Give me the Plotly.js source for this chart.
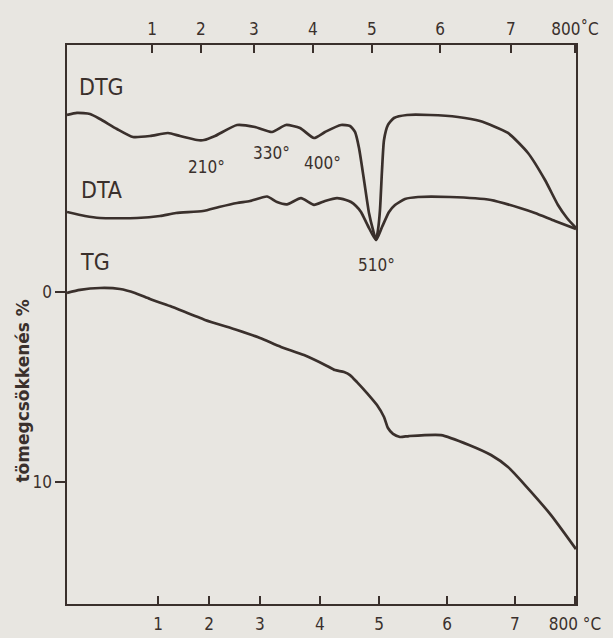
<!DOCTYPE html>
<html>
<head>
<meta charset="utf-8">
<script src="https://cdn.plot.ly/plotly-3.0.1.min.js"></script>
<style>html,body{margin:0;padding:0;background:#e8e6e1;}</style>
</head>
<body>
<div id="chart" style="width:613px;height:638px;"></div>
<script>
// Time axis of the derivatograph record (0-100 units); temperatures are marked at non-linear positions.
const tempLabels = ['1', '2', '3', '4', '5', '6', '7', '800 °C'];
const tempLabelsTop = ['1', '2', '3', '4', '5', '6', '7', '800˚C'];
const tempTimeBottom = [17.9, 27.9, 37.9, 49.7, 61.3, 74.7, 88.0, 99.8];
const tempTimeTop = [16.7, 26.3, 36.7, 48.3, 59.9, 73.3, 87.2, 99.8];

// DTG curve (arbitrary deflection units)
const dtgTime = [0, 1.96, 4.52, 6.48, 9.82, 12.97, 16.31, 19.84, 22.2, 25.54, 26.92, 29.08, 33.40, 36.94, 40.28, 43.03, 45.78, 48.53, 50.69, 53.83, 55.60, 56.58, 57.37, 58.35, 59.33, 60.12, 60.71, 61.10, 61.49, 61.89, 62.28, 63.06, 64.24, 66.80, 71.32, 76.82, 81.14, 86.64, 90.57, 93.91, 96.46, 98.23, 100];
const dtgValue = [87.48, 87.84, 87.66, 86.76, 84.97, 83.54, 83.72, 84.26, 83.72, 83.0, 83.0, 83.72, 85.69, 85.33, 84.44, 85.69, 85.15, 83.36, 84.44, 85.69, 85.51, 84.44, 81.57, 75.85, 69.95, 66.91, 65.12, 66.91, 70.48, 77.64, 83.0, 85.69, 86.94, 87.48, 87.48, 87.12, 86.40, 84.26, 80.68, 75.85, 71.38, 69.05, 67.26];

// DTA curve (arbitrary deflection units)
const dtaTime = [0, 3.54, 6.48, 13.75, 18.27, 21.41, 26.72, 29.86, 33.40, 35.95, 39.29, 41.26, 43.22, 45.97, 48.53, 50.69, 53.05, 54.81, 55.80, 56.78, 57.76, 59.14, 60.71, 61.89, 63.26, 64.44, 66.40, 68.96, 75.25, 83.30, 89.00, 91.94, 95.87, 100];
const dtaValue = [70.13, 69.41, 69.05, 69.05, 69.41, 69.95, 70.30, 71.02, 71.74, 72.09, 72.9, 71.9, 71.5, 72.6, 71.4, 72.09, 72.6, 72.27, 71.91, 71.20, 70.13, 67.62, 65.12, 67.44, 70.13, 71.38, 72.45, 72.81, 72.81, 72.27, 70.84, 69.95, 68.52, 67.08];

// TG curve: mass loss in %
const tgTime = [0, 2.55, 6.48, 10.41, 13.36, 16.31, 20.24, 27.11, 33.40, 37.92, 42.04, 46.56, 51.08, 52.65, 54.42, 55.60, 56.97, 58.94, 60.90, 62.28, 63.06, 64.05, 65.42, 67.19, 73.48, 78.98, 83.30, 86.64, 89.98, 95.09, 100];
const tgLoss = [0.05, -0.11, -0.21, -0.16, 0.05, 0.37, 0.74, 1.47, 2.0, 2.42, 2.89, 3.32, 3.89, 4.11, 4.21, 4.37, 4.74, 5.32, 5.95, 6.58, 7.16, 7.47, 7.63, 7.58, 7.53, 8.05, 8.58, 9.21, 10.16, 11.74, 13.53];

const tgTicks = [0, 10];
const peakLabels = ['210°', '330°', '400°', '510°'];
const peakTime = [27.5, 40.08, 50.10, 60.71];
const peakLabelLevel = [78.18, 80.68, 78.89, 60.64];

const ink = '#3a302c';
const paper = '#e8e6e1';
const condensed = '"DejaVu Sans Condensed", "DejaVu Sans", sans-serif';

const curveLine = {color: ink, width: 2.7, shape: 'spline', smoothing: 0.55};

const traces = [
  {x: dtgTime, y: dtgValue, xaxis: 'x', yaxis: 'y2', mode: 'lines', line: curveLine, name: 'DTG', hoverinfo: 'skip'},
  {x: dtaTime, y: dtaValue, xaxis: 'x2', yaxis: 'y2', mode: 'lines', line: curveLine, name: 'DTA', hoverinfo: 'skip'},
  {x: tgTime, y: tgLoss, xaxis: 'x', yaxis: 'y', mode: 'lines', line: curveLine, name: 'TG', hoverinfo: 'skip'}
];

const annotations = [
  {text: 'DTG', x: 6.68, y: 92.49, xref: 'x', yref: 'y2', showarrow: false, font: {family: condensed, size: 23, color: ink}},
  {text: 'DTA', x: 6.68, y: 74.06, xref: 'x', yref: 'y2', showarrow: false, font: {family: condensed, size: 23, color: ink}},
  {text: 'TG', x: 5.5, y: 61.18, xref: 'x', yref: 'y2', showarrow: false, font: {family: condensed, size: 23, color: ink}},
  {text: 'tömegcsökkenés %', x: -0.11, y: 0.38, xref: 'paper', yref: 'paper', textangle: -90, showarrow: false,
   font: {family: '"DejaVu Sans", sans-serif', size: 17, color: ink, weight: 'bold'}}
];
peakLabels.forEach((t, i) => annotations.push({
  text: t, x: peakTime[i], y: peakLabelLevel[i], xref: 'x', yref: 'y2', showarrow: false,
  font: {family: condensed, size: 17, color: ink}
}));

const layout = {
  width: 613, height: 638,
  margin: {l: 67, r: 37, t: 45, b: 34},
  paper_bgcolor: paper, plot_bgcolor: paper,
  showlegend: false,
  font: {family: condensed, size: 17, color: ink},
  xaxis: {
    range: [0, 100], showgrid: false, zeroline: false,
    showline: true, linecolor: ink, linewidth: 1.6,
    tickmode: 'array', tickvals: tempTimeBottom, ticktext: tempLabels,
    ticks: 'inside', ticklen: 8, tickwidth: 1.6, tickcolor: ink,
    ticklabelstandoff: 4,
    tickfont: {family: condensed, size: 17, color: ink}
  },
  xaxis2: {
    overlaying: 'x', matches: 'x', side: 'top', anchor: 'y',
    range: [0, 100], showgrid: false, zeroline: false,
    showline: true, linecolor: ink, linewidth: 1.6,
    tickmode: 'array', tickvals: tempTimeTop, ticktext: tempLabelsTop,
    ticks: 'inside', ticklen: 8, tickwidth: 1.6, tickcolor: ink,
    ticklabelstandoff: 2,
    tickfont: {family: condensed, size: 17, color: ink}
  },
  yaxis: {
    range: [16.42, -13.0], showgrid: false, zeroline: false,
    showline: true, mirror: true, linecolor: ink, linewidth: 1.6,
    tickmode: 'array', tickvals: tgTicks,
    ticks: 'outside', ticklen: 10, tickwidth: 1.6, tickcolor: ink,
    tickfont: {family: condensed, size: 17, color: ink}
  },
  yaxis2: {
    overlaying: 'y', range: [0, 100], visible: false, showgrid: false, zeroline: false
  },
  annotations: annotations
};

Plotly.newPlot('chart', traces, layout, {staticPlot: true, displayModeBar: false});
</script>
</body>
</html>
